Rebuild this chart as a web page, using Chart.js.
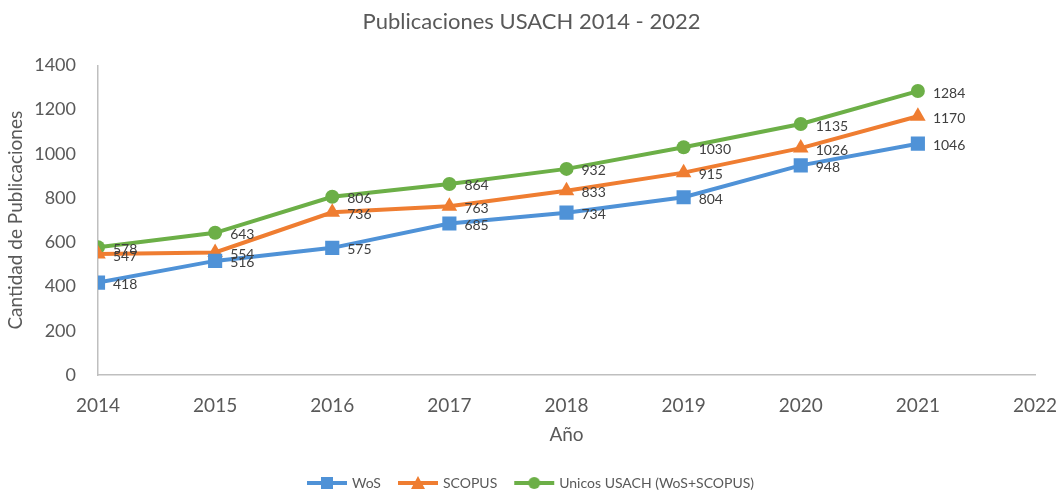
<!DOCTYPE html>
<html>
<head>
<meta charset="utf-8">
<script src="https://cdn.jsdelivr.net/npm/chart.js@4"></script>
<style>
  html, body { margin: 0; padding: 0; background: #fff; }
  #wrap { width: 1063px; height: 491px; }
</style>
</head>
<body>
<div id="wrap"><canvas id="chart" width="1063" height="491"></canvas></div>
<script>
// Values
const years = [2014, 2015, 2016, 2017, 2018, 2019, 2020, 2021];
const wos = [418, 516, 575, 685, 734, 804, 948, 1046];
const scopus = [547, 554, 736, 763, 833, 915, 1026, 1170];
const unicos = [578, 643, 806, 864, 932, 1030, 1135, 1284];
const seriesNames = ['WoS', 'SCOPUS', 'Unicos USACH (WoS+SCOPUS)'];
const seriesColors = ['#4F92D7', '#EF7D31', '#6CAF47'];
const seriesMarkers = ['rect', 'triangle', 'circle'];

const FONT = 'Lato, "Open Sans", sans-serif';
const GREY = '#595959';

// small line + marker swatch for the legend, like Excel does it
function swatch(color, marker) {
  const c = document.createElement('canvas');
  c.width = 44; c.height = 16;
  const g = c.getContext('2d');
  g.strokeStyle = color; g.fillStyle = color; g.lineWidth = 4;
  g.beginPath(); g.moveTo(2, 8); g.lineTo(42, 8); g.stroke();
  g.beginPath();
  if (marker === 'rect') g.rect(16, 2, 12, 12);
  else if (marker === 'triangle') { g.moveTo(22, 1); g.lineTo(29, 14); g.lineTo(15, 14); g.closePath(); }
  else g.arc(22, 8, 6, 0, Math.PI * 2);
  g.fill();
  return c;
}

// value labels to the right of each point
const valueLabels = {
  id: 'valueLabels',
  afterDatasetsDraw(chart) {
    const ctx = chart.ctx;
    ctx.save();
    ctx.font = '14px ' + FONT;
    ctx.fillStyle = '#404040';
    ctx.textBaseline = 'middle';
    ctx.textAlign = 'left';
    chart.data.datasets.forEach((ds, i) => {
      chart.getDatasetMeta(i).data.forEach((pt, j) => {
        ctx.fillText(ds.data[j].y, pt.x + 15, pt.y + 2);
      });
    });
    ctx.restore();
  }
};

const allSeries = [wos, scopus, unicos];
const datasets = allSeries.map((vals, i) => ({
  label: seriesNames[i],
  data: years.map((y, j) => ({ x: y, y: vals[j] })),
  borderColor: seriesColors[i],
  backgroundColor: seriesColors[i],
  borderWidth: 4,
  pointStyle: seriesMarkers[i],
  pointRadius: [10, 9, 7][i],
  pointBorderWidth: 0,
  tension: 0
}));

new Chart(document.getElementById('chart').getContext('2d'), {
  type: 'line',
  data: { datasets: datasets },
  options: {
    responsive: false,
    animation: false,
    layout: { padding: { left: 0, right: 0, top: 0, bottom: -9 } },
    plugins: {
      title: {
        display: true,
        text: 'Publicaciones USACH 2014 - 2022',
        color: GREY,
        font: { family: FONT, size: 22, weight: 'normal' },
        padding: { top: 9, bottom: 30 }
      },
      legend: {
        position: 'bottom',
        labels: {
          color: GREY,
          font: { family: FONT, size: 14 },
          usePointStyle: true,
          pointStyleWidth: 36,
          padding: 19,
          generateLabels(chart) {
            return chart.data.datasets.map((ds, i) => ({
              text: ds.label,
              pointStyle: swatch(seriesColors[i], seriesMarkers[i]),
              fillStyle: seriesColors[i],
              strokeStyle: seriesColors[i],
              lineWidth: 0,
              fontColor: GREY,
              datasetIndex: i
            }));
          }
        }
      },
      tooltip: { enabled: false }
    },
    scales: {
      x: {
        type: 'linear',
        min: 2014,
        max: 2022,
        grid: { display: false, drawTicks: false },
        border: { display: true, color: '#BFBFBF', width: 1.5 },
        ticks: {
          stepSize: 1,
          color: GREY,
          font: { family: FONT, size: 19 },
          padding: 19,
          callback: v => String(v)
        },
        title: {
          display: true,
          text: 'Año',
          color: GREY,
          font: { family: FONT, size: 19 },
          padding: { top: 4, bottom: 11 }
        },
        afterFit: s => { s.height = 82; s.paddingRight = 28; s.paddingLeft = 0; }
      },
      y: {
        min: 0,
        max: 1400,
        grid: { display: false, drawTicks: false },
        border: { display: true, color: '#BFBFBF', width: 1.5 },
        ticks: {
          stepSize: 200,
          color: GREY,
          font: { family: FONT, size: 18 },
          padding: 22,
          callback: v => String(v)
        },
        title: {
          display: true,
          text: 'Cantidad de Publicaciones',
          color: GREY,
          font: { family: FONT, size: 19 },
          padding: { top: 4, bottom: 0 }
        },
        afterFit: s => { s.width = 98; }
      }
    }
  },
  plugins: [valueLabels]
});
</script>
</body>
</html>
